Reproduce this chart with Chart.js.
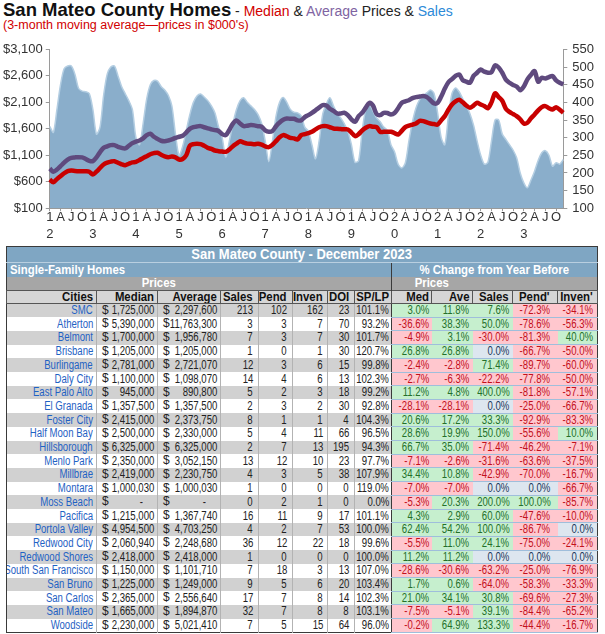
<!DOCTYPE html>
<html>
<head>
<meta charset="utf-8">
<script src="https://cdn.jsdelivr.net/npm/chart.js@4.4.1/dist/chart.umd.min.js"></script>
<style>
  body { margin:0; width:605px; height:634px; overflow:hidden; background:#fff; position:relative;
         font-family:"Liberation Sans", Arial, sans-serif; }
  #head1 { position:absolute; left:3px; top:0; white-space:nowrap; line-height:19px; }
  #head1 .big { font-size:18.5px; font-weight:bold; color:#111; }
  #head1 .sub { font-size:14px; color:#222; }
  .red { color:#d10000; } .pur { color:#8064a2; } .blu { color:#2c8ad8; }
  #head2 { position:absolute; left:3px; top:18px; font-size:12.5px; color:#d10000; white-space:nowrap; }
  #chartBox { position:absolute; left:0; top:36px; width:605px; height:210px; }

  table { position:absolute; left:6px; top:246px; width:591px; border-collapse:collapse;
          table-layout:fixed; border:1px solid #3a3a3a; }
  td { padding:0; white-space:nowrap; overflow:hidden; position:relative; text-align:right; }
  tr.dr td, tr.hd td { direction:rtl; }
  td span { display:inline-block; transform:scaleX(.8); transform-origin:right center; direction:ltr; }
  td .dl { position:absolute; left:5px; top:0; transform:none; }
  tr.ttl td { background:#7fa6c3; color:#fff; font-weight:bold; font-size:14px; height:15px; line-height:15px; text-align:center; }
  tr.ttl td span { transform:scaleX(.93); transform-origin:center; }
  tr.sec td { background:#7fa6c3; color:#fff; font-weight:bold; font-size:12.5px; height:14px; line-height:14px; border-top:1px solid #b9cfe0; }
  tr.sec td span { transform:scaleX(.91); }
  tr.sec td.l { text-align:left; padding-left:3px; }
  tr.sec td.l span { transform-origin:left center; }
  tr.sec td.p { text-align:center; border-left:1px solid #3a3a3a; }
  tr.sec td.p span { transform-origin:center; }
  tr.prc td { background:#a6a6a6; color:#fff; font-weight:bold; font-size:12.5px; height:13px; line-height:13px; text-align:center; }
  tr.prc td span { transform:scaleX(.91); transform-origin:center; }
  tr.prc td.bl { border-left:1px solid #3a3a3a; }
  tr.hd td { background:#d6d6d6; color:#111; font-weight:bold; font-size:12.5px; height:12px; line-height:12px;
             border:1px solid #555; }
  tr.hd td span { transform:scaleX(.91); }
  tr.dr td { height:12.7px; line-height:12.7px; font-size:12px; color:#222; border-left:1px solid #b3b3b3; }
  tr.dr.g td.lp { background:#d1d1d1; }
  tr.dr td.city { color:#1f62c4; border-left:none; }
  tr.dr td.rp { border-left:none; border-bottom:1px solid #9fbedb; }
  tr.dr td.first { border-left:1px solid #3a3a3a; }
  td.pos { background:#c6efce; color:#24702a !important; }
  td.neg { background:#ffc7ce; color:#c3101c !important; }
  td.zero { background:#dde6ef; color:#23385a !important; }
</style>
</head>
<body>
<div id="head1"><span class="big">San Mateo County Homes</span><span class="sub"> - <span class="red">Median</span> &amp; <span class="pur">Average</span> Prices &amp; <span class="blu">Sales</span></span></div>
<div id="head2">(3-month moving average—prices in $000's)</div>
<div id="chartBox"><canvas id="trend" width="605" height="210"></canvas></div>
<table id="tbl"></table>

<script>
// x axis: Jan 2012 .. Dec 2023, one point per month
const yearLabels = ["12", "13", "14", "15", "16", "17", "18", "19", "20", "21", "22", "23"];
const quarterLetters = ["A", "J", "O"];

// median price, $000's (3-month moving average)
const medianPrice = [
  642, 590, 650, 705, 760, 800, 812, 805, 800, 800, 798, 790,
  737, 790, 860, 926, 960, 980, 989, 960, 930, 913, 940, 965,
  976, 1010, 1050, 1084, 1120, 1140, 1147, 1110, 1080, 1065, 1075, 1060,
  1020, 1030, 1100, 1280, 1310, 1317, 1310, 1280, 1241, 1220, 1190, 1178,
  1170, 1166, 1210, 1273, 1320, 1367, 1340, 1320, 1317, 1310, 1317, 1300,
  1270, 1254, 1300, 1367, 1440, 1481, 1460, 1430, 1420, 1399, 1480, 1500,
  1520, 1544, 1590, 1630, 1651, 1651, 1630, 1607, 1600, 1595, 1590, 1588,
  1530, 1462, 1500, 1569, 1620, 1651, 1640, 1632, 1544, 1544, 1544, 1544,
  1520, 1493, 1560, 1632, 1660, 1680, 1700, 1750, 1745, 1720, 1700, 1690,
  1680, 1760, 1840, 1960, 2060, 2120, 2150, 2100, 2040, 2000, 2040, 2092,
  2060, 2029, 1990, 2100, 2270, 2200, 2130, 1980, 1920, 1880, 1840, 1780,
  1700, 1714, 1800, 1872, 1950, 2010, 2029, 1990, 1966, 2010, 1960, 1903
];

// average price, $000's
const averagePrice = [
  850, 790, 830, 894, 960, 1020, 1052, 1060, 1065, 1060, 1030, 995,
  990, 1060, 1160, 1241, 1270, 1292, 1292, 1260, 1240, 1229, 1280, 1330,
  1360, 1380, 1420, 1480, 1506, 1450, 1410, 1375, 1367, 1380, 1399, 1430,
  1450, 1470, 1530, 1600, 1630, 1645, 1651, 1630, 1607, 1590, 1575, 1560,
  1500, 1481, 1580, 1700, 1758, 1700, 1651, 1660, 1670, 1665, 1650, 1640,
  1570, 1544, 1560, 1650, 1720, 1770, 1796, 1790, 1790, 1760, 1760, 1821,
  1860, 1903, 1950, 2000, 2048, 2040, 1980, 1940, 1890, 1890, 1903, 1860,
  1780, 1733, 1840, 1903, 2000, 2092, 2040, 1880, 1859, 1903, 1900, 1872,
  1900, 1990, 2092, 2120, 2140, 2180, 2200, 2210, 2219, 2200, 2140, 2080,
  2090, 2210, 2360, 2480, 2540, 2600, 2628, 2520, 2490, 2471, 2600, 2660,
  2720, 2680, 2660, 2670, 2800, 2760, 2660, 2530, 2470, 2430, 2400, 2330,
  2400, 2534, 2620, 2691, 2490, 2565, 2553, 2578, 2597, 2515, 2470, 2439
];

// number of sales (right axis)
const salesCount = [
  332, 315, 380, 450, 495, 503, 503, 480, 440, 432, 430, 425,
  380, 310, 330, 420, 480, 500, 503, 475, 445, 425, 405, 380,
  300, 280, 340, 410, 450, 462, 460, 445, 435, 420, 390, 310,
  250, 275, 320, 365, 400, 418, 424, 415, 405, 390, 370, 330,
  300, 245, 290, 340, 380, 405, 413, 400, 390, 380, 365, 340,
  290, 232, 290, 360, 400, 414, 400, 380, 372, 370, 362, 330,
  318, 280, 240, 290, 366, 395, 413, 390, 370, 356, 340, 318,
  280, 230, 235, 320, 380, 394, 375, 356, 345, 330, 320, 280,
  260, 225, 214, 228, 290, 345, 385, 408, 420, 427, 435, 425,
  370, 300, 280, 360, 425, 441, 430, 410, 390, 368, 335, 290,
  250, 225, 230, 290, 350, 350, 310, 295, 280, 265, 243, 200,
  172, 158, 180, 205, 235, 257, 263, 250, 219, 229, 225, 238
];

// table: San Mateo County - December 2023
const cities = ["SMC", "Atherton", "Belmont", "Brisbane", "Burlingame", "Daly City", "East Palo Alto",
  "El Granada", "Foster City", "Half Moon Bay", "Hillsborough", "Menlo Park", "Millbrae", "Montara",
  "Moss Beach", "Pacifica", "Portola Valley", "Redwood City", "Redwood Shores", "South San Francisco",
  "San Bruno", "San Carlos", "San Mateo", "Woodside"];
const cityMedian = ["1,725,000", "5,390,000", "1,700,000", "1,205,000", "2,781,000", "1,100,000", "945,000",
  "1,357,500", "2,415,000", "2,500,000", "6,325,000", "2,350,000", "2,419,000", "1,000,030", "-",
  "1,215,000", "4,954,500", "2,060,940", "2,418,000", "1,150,000", "1,225,000", "2,365,000", "1,665,000", "2,230,000"];
const cityAverage = ["2,297,600", "11,763,300", "1,956,780", "1,205,000", "2,721,070", "1,098,070", "890,800",
  "1,357,500", "2,373,750", "2,330,000", "6,325,000", "3,052,150", "2,230,750", "1,000,030", "-",
  "1,367,740", "4,703,250", "2,248,680", "2,418,000", "1,101,710", "1,249,000", "2,556,640", "1,894,870", "5,021,410"];
const citySales = [213, 3, 7, 1, 12, 14, 5, 2, 8, 5, 2, 13, 4, 1, 0, 16, 4, 36, 1, 7, 9, 17, 32, 7];
const cityPend = [102, 3, 3, 0, 3, 4, 2, 3, 1, 4, 7, 12, 3, 0, 2, 11, 2, 12, 0, 18, 5, 7, 7, 5];
const cityInven = [162, 7, 7, 1, 6, 6, 3, 2, 1, 11, 13, 10, 5, 0, 1, 9, 7, 22, 0, 3, 6, 8, 8, 15];
const cityDoi = [23, 70, 30, 30, 15, 13, 18, 30, 4, 66, 195, 23, 38, 0, 0, 17, 53, 18, 0, 13, 20, 14, 8, 64];
const citySpLp = [101.1, 93.2, 101.7, 120.7, 99.8, 102.3, 99.2, 92.8, 104.3, 96.5, 94.3, 97.7, 107.9, 119.0,
  0.0, 101.1, 100.0, 99.6, 100.0, 107.0, 103.4, 102.3, 103.1, 96.0];
const chgMed = [3.0, -36.6, -4.9, 26.8, -2.4, -2.7, 11.2, -28.1, 20.6, 28.6, 66.7, -7.1, 34.4, -7.0, -5.3,
  4.3, 62.4, -5.5, 11.2, -28.6, 1.7, 21.0, -7.5, -0.2];
const chgAve = [11.8, 38.3, 3.1, 26.8, -2.8, -6.3, 4.8, -28.1, 17.2, 19.9, 35.0, -2.6, 10.8, -7.0, 20.3,
  2.9, 54.2, 11.0, 11.2, -30.6, 0.6, 34.1, -5.1, 64.9];
const chgSales = [7.6, 50.0, -30.0, 0.0, 71.4, -22.2, 400.0, 0.0, 33.3, 150.0, -71.4, -31.6, -42.9, 0.0, 200.0,
  60.0, 100.0, 24.1, 0.0, -63.2, -64.0, 30.8, 39.1, 133.3];
const chgPend = [-72.3, -78.6, -81.3, -66.7, -89.7, -77.8, -81.8, -25.0, -92.9, -55.6, -46.2, -63.6, -70.0, 0.0,
  100.0, -47.6, -86.7, -75.0, 0.0, -25.0, -58.3, -69.6, -84.4, -44.4];
const chgInven = [-34.1, -56.3, 40.0, -50.0, -60.0, -50.0, -57.1, -66.7, -83.3, 10.0, -7.1, -37.5, -16.7, -66.7,
  -85.7, -10.0, 0.0, -24.1, 0.0, -76.9, -33.3, -27.3, -65.2, -16.7];

const labels = [];
yearLabels.forEach(yr => {
  for (let mo = 0; mo < 12; mo++) {
    if (mo === 0) labels.push([yr[0], yr[1]]);
    else if (mo % 3 === 0) labels.push(quarterLetters[mo / 3 - 1]);
    else labels.push("");
  }
});

const tickFont = { family: "'Liberation Sans', Arial, sans-serif", size: 13, lineHeight: 1.3 };
const axisGray = "#9a9a9a";

new Chart(document.getElementById("trend"), {
  type: "line",
  data: {
    labels,
    datasets: [
      { label: "Median", data: medianPrice, yAxisID: "y", borderColor: "#c80000", borderWidth: 4.5,
        pointRadius: 0, tension: 0.3, order: 1 },
      { label: "Average", data: averagePrice, yAxisID: "y", borderColor: "#5f4a7e", borderWidth: 4.5,
        pointRadius: 0, tension: 0.3, order: 2 },
      { label: "Sales", data: salesCount, yAxisID: "y2", borderColor: "#b4cee2", backgroundColor: "#8aaecb",
        borderWidth: 1.5, fill: "start", pointRadius: 0, tension: 0.3, order: 3 }
    ]
  },
  options: {
    responsive: false,
    animation: false,
    layout: { padding: { left: 0, right: 6, top: 11, bottom: 5 } },
    plugins: { legend: { display: false }, tooltip: { enabled: false } },
    scales: {
      x: {
        grid: { drawOnChartArea: false, tickLength: 3,
          color: c => (c.tick && c.tick.label !== "" ? axisGray : "rgba(0,0,0,0)") },
        border: { color: axisGray },
        ticks: { autoSkip: false, maxRotation: 0, minRotation: 0, padding: -2, color: "#333", font: tickFont }
      },
      y: {
        position: "left", min: 100, max: 3100,
        grid: { drawOnChartArea: false, tickLength: 4, color: axisGray },
        border: { color: axisGray },
        ticks: { stepSize: 500, color: "#333", font: tickFont, padding: 3, autoSkip: false,
          callback: v => "$" + v.toLocaleString("en-US") }
      },
      y2: {
        position: "right", min: 100, max: 550,
        grid: { drawOnChartArea: false, tickLength: 4, color: axisGray },
        border: { color: axisGray },
        ticks: { stepSize: 50, color: "#333", font: tickFont, padding: 5, autoSkip: false }
      }
    }
  }
});

// ---- table ----
const colW = [90, 61, 63, 38, 34, 35, 27, 37, 40, 41, 40, 45, 40];
const padR = [3, 3, 3, 5, 5, 4, 5, 2, 2, 3, 3, 7, 4];
const headNames = ["Cities", "Median", "Average", "Sales", "Pend", "Inven", "DOI", "SP/LP",
  "Med", "Ave", "Sales", "Pend'", "Inven'"];

const pct = v => v.toFixed(1) + "%";
const signCls = v => (v > 0 ? "pos" : v < 0 ? "neg" : "zero");
const sp = s => `<span>${s}</span>`;
const pr = i => `style="padding-right:${padR[i]}px"`;

let html = "<colgroup>" + colW.map(w => `<col style="width:${w}px">`).join("") + "</colgroup>";
html += `<tr class="ttl"><td colspan="13">${sp("San Mateo County - December 2023")}</td></tr>`;
html += `<tr class="sec"><td class="l" colspan="8">${sp("Single-Family Homes")}</td>` +
        `<td class="p" colspan="5">${sp("% Change from Year Before")}</td></tr>`;
html += `<tr class="prc"><td></td><td colspan="2">${sp("Prices")}</td><td colspan="5"></td>` +
        `<td class="bl" colspan="2">${sp("Prices")}</td><td colspan="3"></td></tr>`;
html += `<tr class="hd">` + headNames.map((h, i) => `<td ${pr(i)}>${sp(h)}</td>`).join("") + `</tr>`;

cities.forEach((city, r) => {
  const money = (v, i) => `<td class="lp" ${pr(i)}><span class="dl">$</span>` +
    (v === "-" ? `<span style="margin-right:11px">-</span>` : sp(v)) + `</td>`;
  let row = `<tr class="dr${r % 2 === 0 ? " g" : ""}">`;
  row += `<td class="lp city" ${pr(0)}>${sp(city)}</td>`;
  row += money(cityMedian[r], 1) + money(cityAverage[r], 2);
  row += `<td class="lp" ${pr(3)}>${sp(citySales[r])}</td>`;
  row += `<td class="lp" ${pr(4)}>${sp(cityPend[r])}</td>`;
  row += `<td class="lp" ${pr(5)}>${sp(cityInven[r])}</td>`;
  row += `<td class="lp" ${pr(6)}>${sp(cityDoi[r])}</td>`;
  row += `<td class="lp" ${pr(7)}>${sp(pct(citySpLp[r]))}</td>`;
  [chgMed, chgAve, chgSales, chgPend, chgInven].forEach((arr, k) => {
    const v = arr[r];
    row += `<td class="rp ${signCls(v)}${k === 0 ? " first" : ""}" ${pr(8 + k)}>${sp(pct(v))}</td>`;
  });
  html += row + "</tr>";
});
document.getElementById("tbl").innerHTML = html;
</script>
</body>
</html>
